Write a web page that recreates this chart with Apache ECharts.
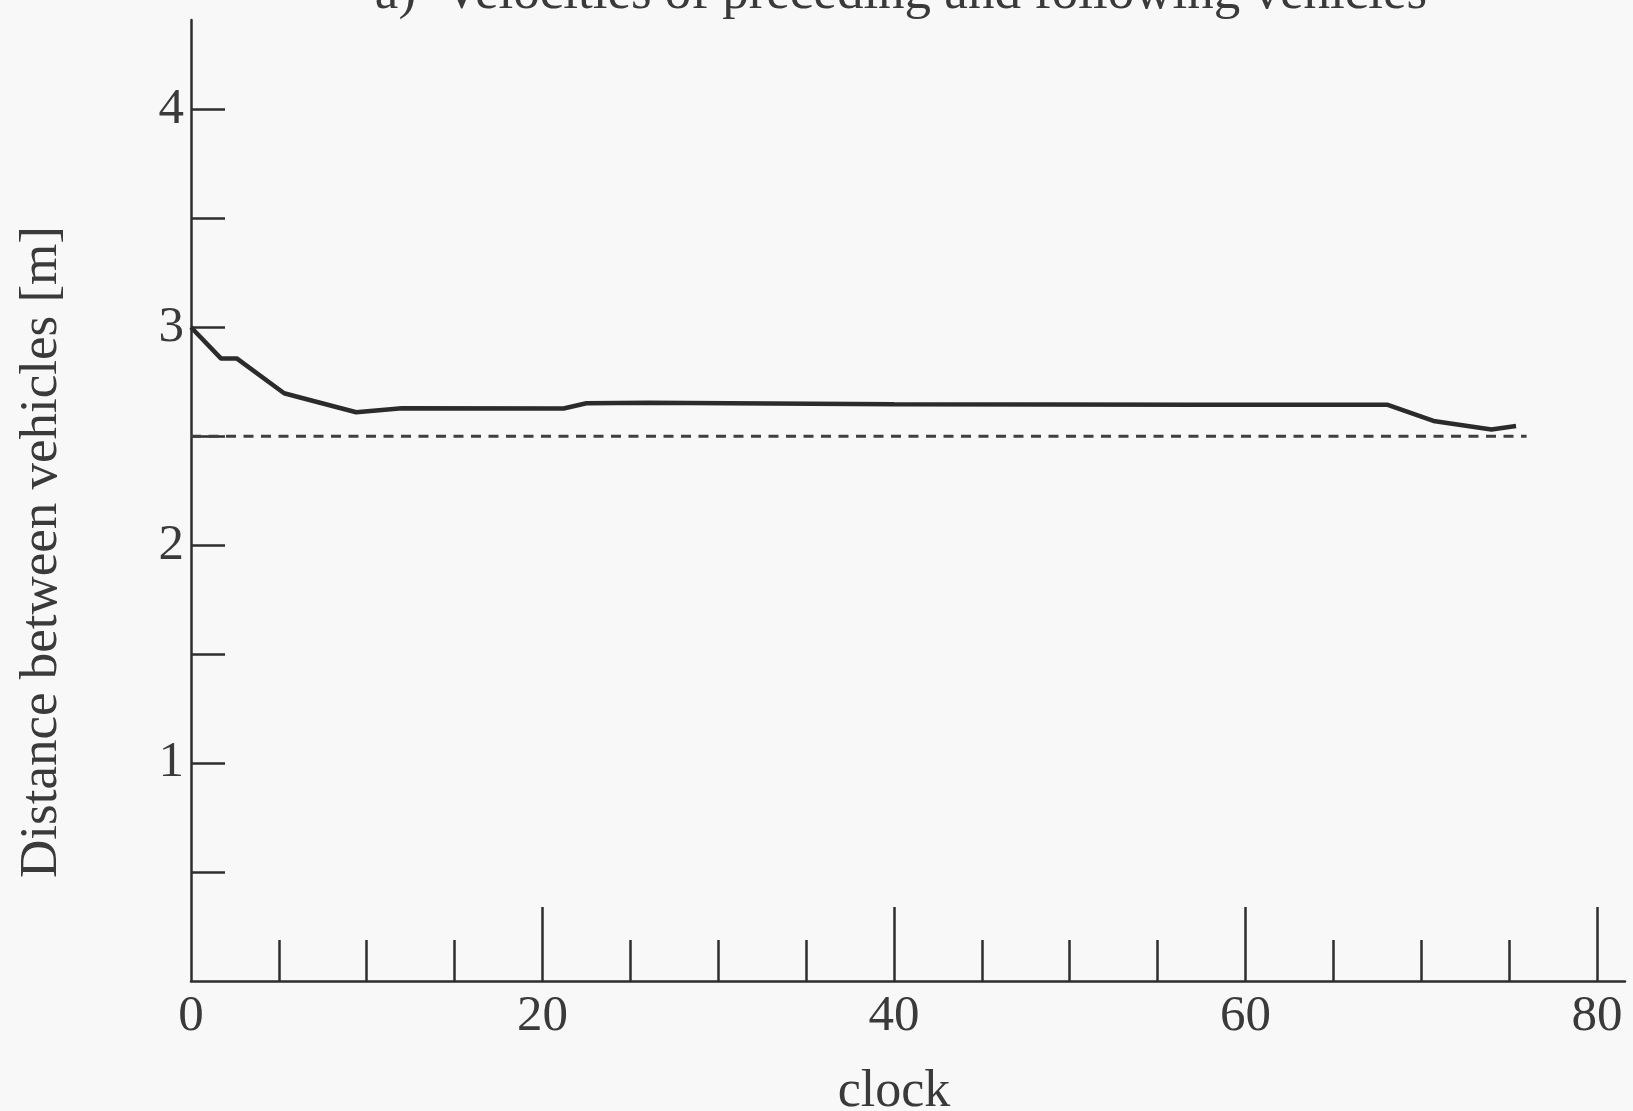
<!DOCTYPE html>
<html>
<head>
<meta charset="utf-8">
<script src="https://cdn.jsdelivr.net/npm/echarts@6/dist/echarts.min.js"></script>
<style>
html,body{margin:0;padding:0;background:#f8f8f8;}
#chart{width:1633px;height:1111px;}
</style>
</head>
<body>
<div id="chart"></div>
<script>
// ---- data ----
const titleText = 'a)  Velocities of preceding and following vehicles';
const xAxisName = 'clock';
const yAxisName = 'Distance between vehicles [m]';

const clockValues    = [0, 1.7, 2.6, 5.3, 6.1, 9.4, 12.0, 21.2, 22.5, 26.0, 40.0, 57.4, 68.1, 70.7, 74.0, 75.4];
const distanceValues = [3.0, 2.857, 2.857, 2.697, 2.68, 2.61, 2.628, 2.627, 2.651, 2.654, 2.647, 2.644, 2.644, 2.57, 2.531, 2.547];

const referenceClock    = [0, 76];
const referenceDistance = [2.5, 2.5];

const xMajorTicks = [20, 40, 60, 80];
const xMinorTicks = [5, 10, 15, 25, 30, 35, 45, 50, 55, 65, 70, 75];
const xTickLabels = [0, 20, 40, 60, 80];
const yTicks      = [0.5, 1, 1.5, 2, 2.5, 3, 3.5, 4];
const yTickLabels = [1, 2, 3, 4];
const xMin = 0, xMax = 81.6;
const yMin = 0, yMax = 4.41;

// ---- chart ----
const ink = '#2e2e2e';
const textInk = '#3a3a3a';
const font = 'Liberation Serif';
const chart = echarts.init(document.getElementById('chart'), null, {renderer: 'canvas'});

const mainLine = clockValues.map((c, i) => [c, distanceValues[i]]);
const refLine = referenceClock.map((c, i) => [c, referenceDistance[i]]);

chart.setOption({
  backgroundColor: '#f8f8f8',
  animation: false,
  title: {
    text: titleText,
    left: 896,
    textAlign: 'center',
    top: -37,
    textStyle: {fontFamily: font, fontSize: 53, fontWeight: 'normal', color: textInk}
  },
  grid: {left: 191, right: 8, top: 20, bottom: 130, containLabel: false, outerBoundsMode: 'none'},
  xAxis: [
    {
      type: 'value', min: xMin, max: xMax, position: 'bottom',
      name: xAxisName, nameLocation: 'middle', nameGap: 85,
      nameTextStyle: {fontFamily: font, fontSize: 52, color: textInk, padding: [0, 28, 0, 0]},
      axisLine: {show: true, lineStyle: {color: ink, width: 2.5}},
      axisTick: {show: true, inside: true, length: 74, customValues: xMajorTicks, lineStyle: {color: ink, width: 2.5}},
      axisLabel: {show: true, customValues: xTickLabels, margin: 10, fontFamily: font, fontSize: 51, color: textInk},
      splitLine: {show: false}
    },
    {
      type: 'value', min: xMin, max: xMax, position: 'bottom', gridIndex: 0,
      axisLine: {show: false},
      axisTick: {show: true, inside: true, length: 41, customValues: xMinorTicks, lineStyle: {color: ink, width: 2.5}},
      axisLabel: {show: false},
      splitLine: {show: false}
    }
  ],
  yAxis: {
    type: 'value', min: yMin, max: yMax,
    name: yAxisName, nameLocation: 'middle', nameGap: 122, nameRotate: 90,
    nameTextStyle: {fontFamily: font, fontSize: 53, color: textInk, padding: [0, 103, 0, 0]},
    axisLine: {show: true, lineStyle: {color: ink, width: 2.5}},
    axisTick: {show: true, inside: true, length: 34, customValues: yTicks, lineStyle: {color: ink, width: 2.5}},
    axisLabel: {show: true, customValues: yTickLabels, margin: 7, fontFamily: font, fontSize: 51, color: textInk},
    splitLine: {show: false}
  },
  series: [
    {
      type: 'line', data: mainLine, xAxisIndex: 0, symbol: 'none',
      lineStyle: {color: '#2b2b2b', width: 4.5}, z: 3
    },
    {
      type: 'line', data: refLine, xAxisIndex: 0, symbol: 'none',
      lineStyle: {color: '#3f3f3f', width: 3, type: [10, 7.5]}, z: 2
    }
  ]
});
</script>
</body>
</html>
